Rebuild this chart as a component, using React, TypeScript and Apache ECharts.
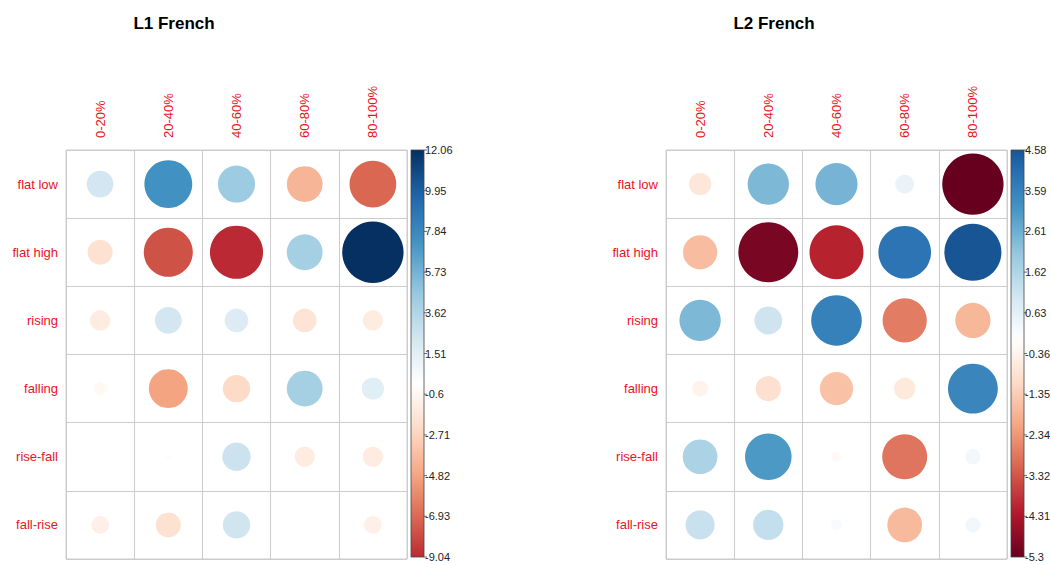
import React, { useEffect, useRef } from "react";
import * as echarts from "echarts";

const columns = ["0-20%", "20-40%", "40-60%", "60-80%", "80-100%"];
const rows = ["flat low", "flat high", "rising", "falling", "rise-fall", "fall-rise"];

const l1Values = [
  [2.3, 7.35, 4.4, -4.1, -7.0],
  [-2.0, -7.7, -9.04, 4.1, 12.06],
  [-1.3, 2.3, 1.8, -1.8, -1.3],
  [-0.5, -4.85, -2.4, 4.1, 1.6],
  [-0.1, -0.12, 2.6, -1.3, -1.3],
  [-1.0, -2.0, 2.4, -0.08, -1.0],
];

const l2Values = [
  [-0.7, 2.4, 2.5, 0.5, -5.3],
  [-1.65, -5.05, -4.1, 3.9, 4.58],
  [2.4, 1.1, 3.6, -2.75, -1.75],
  [-0.35, -0.9, -1.55, -0.65, 3.5],
  [1.7, 3.05, -0.14, -2.85, 0.33],
  [1.2, 1.3, 0.17, -1.7, 0.33],
];

const l1Ticks = ["12.06", "9.95", "7.84", "5.73", "3.62", "1.51", "-0.6", "-2.71", "-4.82", "-6.93", "-9.04"];
const l2Ticks = ["4.58", "3.59", "2.61", "1.62", "0.63", "-0.36", "-1.35", "-2.34", "-3.32", "-4.31", "-5.3"];

const titles = ["L1 French", "L2 French"];

const PALETTE = [
  "#67001F", "#B2182B", "#D6604D", "#F4A582", "#FDDBC7", "#FFFFFF",
  "#D1E5F0", "#92C5DE", "#4393C3", "#2166AC", "#053061",
];

function hexToRgb(h: string) {
  const n = parseInt(h.slice(1), 16);
  return [(n >> 16) & 255, (n >> 8) & 255, n & 255];
}

function rdbu(t: number) {
  const c = Math.max(-1, Math.min(1, t));
  const pos = ((c + 1) / 2) * (PALETTE.length - 1);
  const i = Math.min(PALETTE.length - 2, Math.floor(pos));
  const f = pos - i;
  const a = hexToRgb(PALETTE[i]);
  const b = hexToRgb(PALETTE[i + 1]);
  const r = a.map((v, k) => Math.round(v + (b[k] - v) * f));
  return `rgb(${r[0]},${r[1]},${r[2]})`;
}

const FONT = "Liberation Sans, Arial, sans-serif";
const LABEL_RED = "#e8141c";

const GRID_TOP = 150;
const GRID_W = 341;
const GRID_H = 409;
const PANELS = [
  { left: 66, barX: 411, titleX: 174, values: l1Values, ticks: l1Ticks },
  { left: 666, barX: 1011, titleX: 774, values: l2Values, ticks: l2Ticks },
];

export default function App() {
  const ref = useRef<HTMLDivElement>(null);

  useEffect(() => {
    document.body.style.margin = "0";
    if (!ref.current) return;
    const chart = echarts.init(ref.current, null, { renderer: "svg" });
    const cell = Math.min(GRID_W / columns.length, GRID_H / rows.length);

    const grids: any[] = [];
    const xAxes: any[] = [];
    const yAxes: any[] = [];
    const series: any[] = [];
    const graphics: any[] = [];

    PANELS.forEach((p, pi) => {
      const flat = p.values.flat();
      const M = Math.max(...flat.map((v) => Math.abs(v)));
      grids.push({
        left: p.left,
        top: GRID_TOP,
        width: GRID_W,
        height: GRID_H,
        show: true,
        borderColor: "#cccccc",
        borderWidth: 1,
      });
      xAxes.push({
        type: "category",
        gridIndex: pi,
        data: columns,
        position: "top",
        axisLine: { show: false },
        axisTick: { show: false },
        splitLine: { show: true, interval: 0, lineStyle: { color: "#cccccc", width: 1 } },
        axisLabel: {
          interval: 0,
          rotate: -90,
          margin: 12,
          color: LABEL_RED,
          fontSize: 13,
          fontFamily: FONT,
        },
      });
      yAxes.push({
        type: "category",
        gridIndex: pi,
        data: rows,
        inverse: true,
        axisLine: { show: false },
        axisTick: { show: false },
        splitLine: { show: true, interval: 0, lineStyle: { color: "#cccccc", width: 1 } },
        axisLabel: {
          interval: 0,
          margin: 8,
          color: LABEL_RED,
          fontSize: 13,
          fontFamily: FONT,
        },
      });
      const data: any[] = [];
      p.values.forEach((row, ri) =>
        row.forEach((v, ci) => data.push([ci, ri, v]))
      );
      series.push({
        type: "scatter",
        xAxisIndex: pi,
        yAxisIndex: pi,
        symbol: "circle",
        silent: true,
        data,
        symbolSize: (val: number[]) => 0.9 * cell * Math.sqrt(Math.abs(val[2]) / M),
        itemStyle: {
          opacity: 1,
          color: (params: any) => rdbu(params.data[2] / M),
        },
      });

      graphics.push({
        type: "text",
        x: p.titleX,
        y: 23.5,
        style: {
          text: titles[pi],
          font: `bold 17px ${FONT}`,
          fill: "#000",
          textAlign: "center",
          textVerticalAlign: "middle",
        },
      });

      const tickVals = p.ticks.map(Number);
      const vMax = tickVals[0];
      const vMin = tickVals[tickVals.length - 1];
      const barTop = GRID_TOP;
      const barBottom = 557;
      const barW = 13;
      const stops: any[] = [];
      const N = 40;
      for (let i = 0; i <= N; i++) {
        const v = vMax - ((vMax - vMin) * i) / N;
        stops.push({ offset: i / N, color: rdbu(v / M) });
      }
      graphics.push({
        type: "rect",
        shape: { x: p.barX, y: barTop, width: barW, height: barBottom - barTop },
        style: {
          fill: { type: "linear", x: 0, y: 0, x2: 0, y2: 1, colorStops: stops },
          stroke: "#444",
          lineWidth: 0.8,
        },
      });
      p.ticks.forEach((t, i) => {
        const y = barTop + ((barBottom - barTop) * i) / (p.ticks.length - 1);
        graphics.push({
          type: "line",
          shape: { x1: p.barX + barW, y1: y, x2: p.barX + barW + 3, y2: y },
          style: { stroke: "#444", lineWidth: 0.8 },
        });
        graphics.push({
          type: "text",
          x: p.barX + barW + 1,
          y,
          style: {
            text: t,
            font: `11px ${FONT}`,
            fill: "#222",
            textAlign: "left",
            textVerticalAlign: "middle",
          },
        });
      });
    });

    chart.setOption({
      animation: false,
      backgroundColor: "#fff",
      grid: grids,
      xAxis: xAxes,
      yAxis: yAxes,
      series,
      graphic: graphics,
    });
    return () => chart.dispose();
  }, []);

  return <div ref={ref} style={{ width: 1051, height: 565 }} />;
}
